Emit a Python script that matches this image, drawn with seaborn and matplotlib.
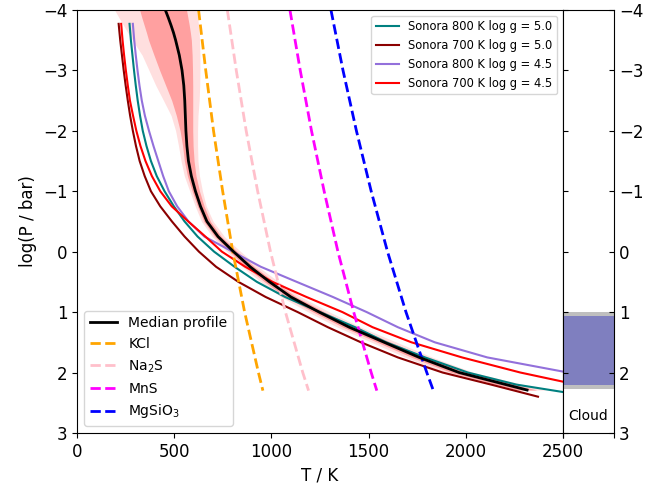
import matplotlib
matplotlib.use('Agg')
import matplotlib.pyplot as plt
import seaborn as sns

plt.rcParams['font.size'] = 12

# Sonora model P-T profiles, all on the same log P grid
logp_sonora = [-3.77, -3.5, -3.25, -3, -2.75, -2.5, -2.25, -2, -1.75, -1.5, -1.25,
               -1, -0.75, -0.5, -0.25, 0, 0.25, 0.5, 0.75, 1, 1.25, 1.5, 1.75,
               2, 2.2, 2.4]
t_800_g50 = [270, 277, 285, 293, 302, 312, 324, 338, 357, 380, 410,
             450, 498, 553, 620, 705, 810, 925, 1070, 1250, 1430, 1590, 1790,
             2010, 2260, 2650]
t_700_g50 = [214, 222, 231, 240, 250, 261, 273, 287, 303, 322, 348,
             380, 428, 488, 553, 627, 715, 830, 970, 1135, 1290, 1460, 1650,
             1880, 2130, 2371]
t_800_g45 = [287, 294, 302, 311, 321, 333, 349, 370, 393, 418, 443,
             472, 515, 573, 655, 800, 945, 1130, 1316, 1490, 1650, 1840, 2110,
             2525, 2850, 3200]
t_700_g45 = [227, 234, 242, 251, 261, 272, 288, 305, 326, 352, 385,
             428, 487, 572, 660, 745, 865, 1005, 1180, 1365, 1520, 1720, 1980,
             2280, 2570, 2900]

# retrieved profile: median with 1 and 2 sigma envelopes
logp_med = [-4, -3.875, -3.75, -3.625, -3.5, -3.25, -3, -2.75, -2.5, -2.25, -2,
            -1.75, -1.5, -1.25, -1, -0.75, -0.5, -0.25, 0, 0.25, 0.5, 0.75,
            1, 1.25, 1.5, 1.75, 2, 2.29]
t_median = [454, 469, 483, 496, 507, 526, 540, 549, 554, 557, 560,
            565, 573, 588, 609, 635, 668, 725, 805, 890, 990, 1100,
            1245, 1400, 1580, 1760, 1965, 2315]
t_1sig_lo = [322, 333, 345, 357, 368, 396, 425, 456, 487, 511, 530,
             543, 552, 568, 592, 620, 652, 708, 785, 868, 965, 1072,
             1215, 1368, 1545, 1722, 1925, 2265]
t_1sig_hi = [563, 570, 577, 583, 588, 592, 594, 595, 595, 595, 595,
             597, 602, 612, 630, 654, 686, 742, 825, 912, 1015, 1128,
             1275, 1432, 1615, 1798, 2005, 2365]
t_2sig_lo = [193, 215, 238, 261, 285, 335, 370, 405, 445, 484, 507,
             522, 535, 552, 580, 608, 640, 695, 770, 850, 945, 1050,
             1190, 1340, 1515, 1690, 1890, 2230]
t_2sig_hi = [615, 620, 625, 628, 630, 632, 632, 631, 628, 622, 620,
             620, 622, 630, 645, 665, 700, 758, 842, 932, 1038, 1152,
             1300, 1460, 1645, 1830, 2040, 2410]

# condensation curves
logp_cond = [-4, -3, -2, -1, 0, 1, 2, 2.3]
t_kcl = [625, 662, 702, 749, 801, 862, 933, 956]
t_na2s = [773, 819, 870, 929, 995, 1072, 1161, 1191]
t_mns = [1095, 1148, 1206, 1271, 1342, 1423, 1513, 1542]
t_mgsio3 = [1306, 1368, 1437, 1513, 1597, 1692, 1799, 1833]

# cloud layer (log P / bar)
cloud_top, cloud_bottom = 1.07, 2.2
cloud_top_err, cloud_bottom_err = 1.0, 2.27

fig = plt.figure(figsize=(6.7, 4.87), dpi=100)
ax = fig.add_axes([0.115, 0.111, 0.7254, 0.8686])
ax2 = fig.add_axes([0.8403, 0.111, 0.0761, 0.8686])

ax.fill_betweenx(logp_med, t_2sig_lo, t_2sig_hi, color='#ffdfdf', lw=0, zorder=1)
ax.fill_betweenx(logp_med, t_1sig_lo, t_1sig_hi, color='#ffa0a0', lw=0, zorder=1)

sonora = [
    (t_800_g50, 'teal', 'Sonora 800 K log g = 5.0'),
    (t_700_g50, 'darkred', 'Sonora 700 K log g = 5.0'),
    (t_800_g45, 'mediumpurple', 'Sonora 800 K log g = 4.5'),
    (t_700_g45, 'red', 'Sonora 700 K log g = 4.5'),
]
for t, c, lab in sonora:
    sns.lineplot(x=t, y=logp_sonora, sort=False, estimator=None, color=c,
                 lw=1.5, label=lab, ax=ax)

sns.lineplot(x=t_median, y=logp_med, sort=False, estimator=None, color='black',
             lw=2, label='Median profile', ax=ax, zorder=5)

cond = [
    (t_kcl, 'orange', 'KCl'),
    (t_na2s, 'pink', 'Na$_2$S'),
    (t_mns, 'magenta', 'MnS'),
    (t_mgsio3, 'blue', 'MgSiO$_3$'),
]
for t, c, lab in cond:
    sns.lineplot(x=t, y=logp_cond, sort=False, estimator=None, color=c,
                 lw=2, ls='--', label=lab, ax=ax)

handles, labels = ax.get_legend_handles_labels()
leg1 = ax.legend(handles[:4], labels[:4], loc='upper right', fontsize='x-small')
ax.add_artist(leg1)
ax.legend(handles[4:], labels[4:], loc='lower left', fontsize='small')

ax.set_xlim(0, 2500)
ax.set_ylim(3, -4)
ax.set_yticks(range(-4, 4))
ax.set_xlabel('T / K')
ax.set_ylabel('log(P / bar)')

# cloud panel
ax2.axhspan(cloud_top_err, cloud_bottom_err, color='#bfbfbf', lw=0)
ax2.axhspan(cloud_top, cloud_bottom, color='#7f7fbf', lw=0)
ax2.text(0.5, 2.72, 'Cloud', ha='center', va='center', fontsize='small')
ax2.set_xlim(0, 1)
ax2.set_ylim(3, -4)
ax2.set_xticks([0, 1])
ax2.set_xticklabels([])
ax2.set_yticks(range(-4, 4))
ax2.yaxis.set_ticks_position('both')
ax2.tick_params(axis='y', direction='in', labelleft=False, labelright=True)

fig.savefig('out.png', dpi=100)
